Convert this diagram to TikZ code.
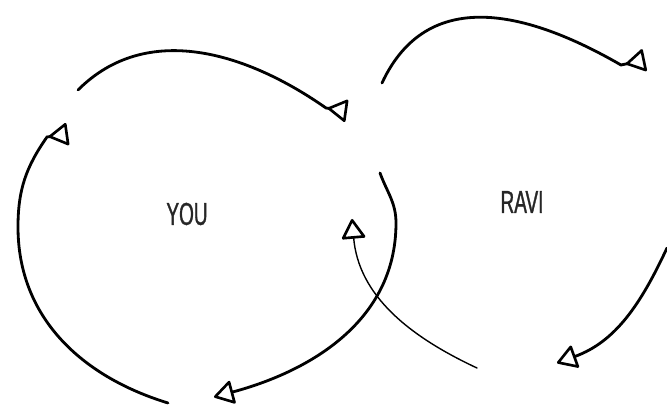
\documentclass[tikz,border=0pt]{standalone}
\usepackage{fontspec}
\newfontfamily\namefont[FakeStretch=0.6, FakeBold=1]{Liberation Sans}
\usepackage{tikz}
\usetikzlibrary{arrows.meta}

\begin{document}
\begin{tikzpicture}[
    x=0.02cm, y=0.02cm,
    loop/.style={draw, line width=1.6pt, line cap=round, -{Triangle[open, round, line width=1.5pt, length=0.42cm, width=0.5cm]}},
    loopback/.style={draw, line width=1.6pt, line cap=round, -{Triangle[open, round, reversed, line width=1.5pt, length=0.42cm, width=0.48cm]}},
    thinloop/.style={loop, line width=0.8pt},
    person/.style={font=\namefont\fontsize{18}{20}\selectfont, text=black!85}
]
    \useasboundingbox (0,0) rectangle (667,405);

    \node[person] (you) at (187,191) {YOU};
    \node[person] (ravi) at (522,203) {RAVI};

    % your loop
    \coordinate (a1s) at (78,315);
    \coordinate (a1k) at (326,297);
    \coordinate (a1e) at (347,294);
    \coordinate (a2s) at (168,2);
    \coordinate (a2m) at (18,178);
    \coordinate (a2k) at (47,268);
    \coordinate (a2e) at (68,271);
    \coordinate (a3s) at (380,232);
    \coordinate (a3m) at (396,182);
    \coordinate (a3e) at (214,8);

    % Ravi's loop
    \coordinate (b1s) at (382,322);
    \coordinate (b1k) at (621,340);
    \coordinate (b1e) at (645,345);
    \coordinate (b2s) at (667,157);
    \coordinate (b2e) at (557,42);
    \coordinate (b3s) at (477,37);
    \coordinate (b3e) at (352,186);

    \draw[loopback] (a1s) to[out=45, in=145] (a1k) -- (a1e);
    \draw[loopback] (a2s) to[out=163, in=-90] (a2m) to[out=90, in=235] (a2k) -- (a2e);
    \draw[loop] (a3s) to[out=-70, in=90] (a3m) to[out=-90, in=15] (a3e);

    \draw[loopback] (b1s) to[out=65, in=150, looseness=1.15] (b1k) -- (b1e);
    \draw[loop] (b2s) to[out=-115, in=20] (b2e);
    \draw[thinloop] (b3s) to[out=155, in=-85] (b3e);
\end{tikzpicture}
\end{document}
